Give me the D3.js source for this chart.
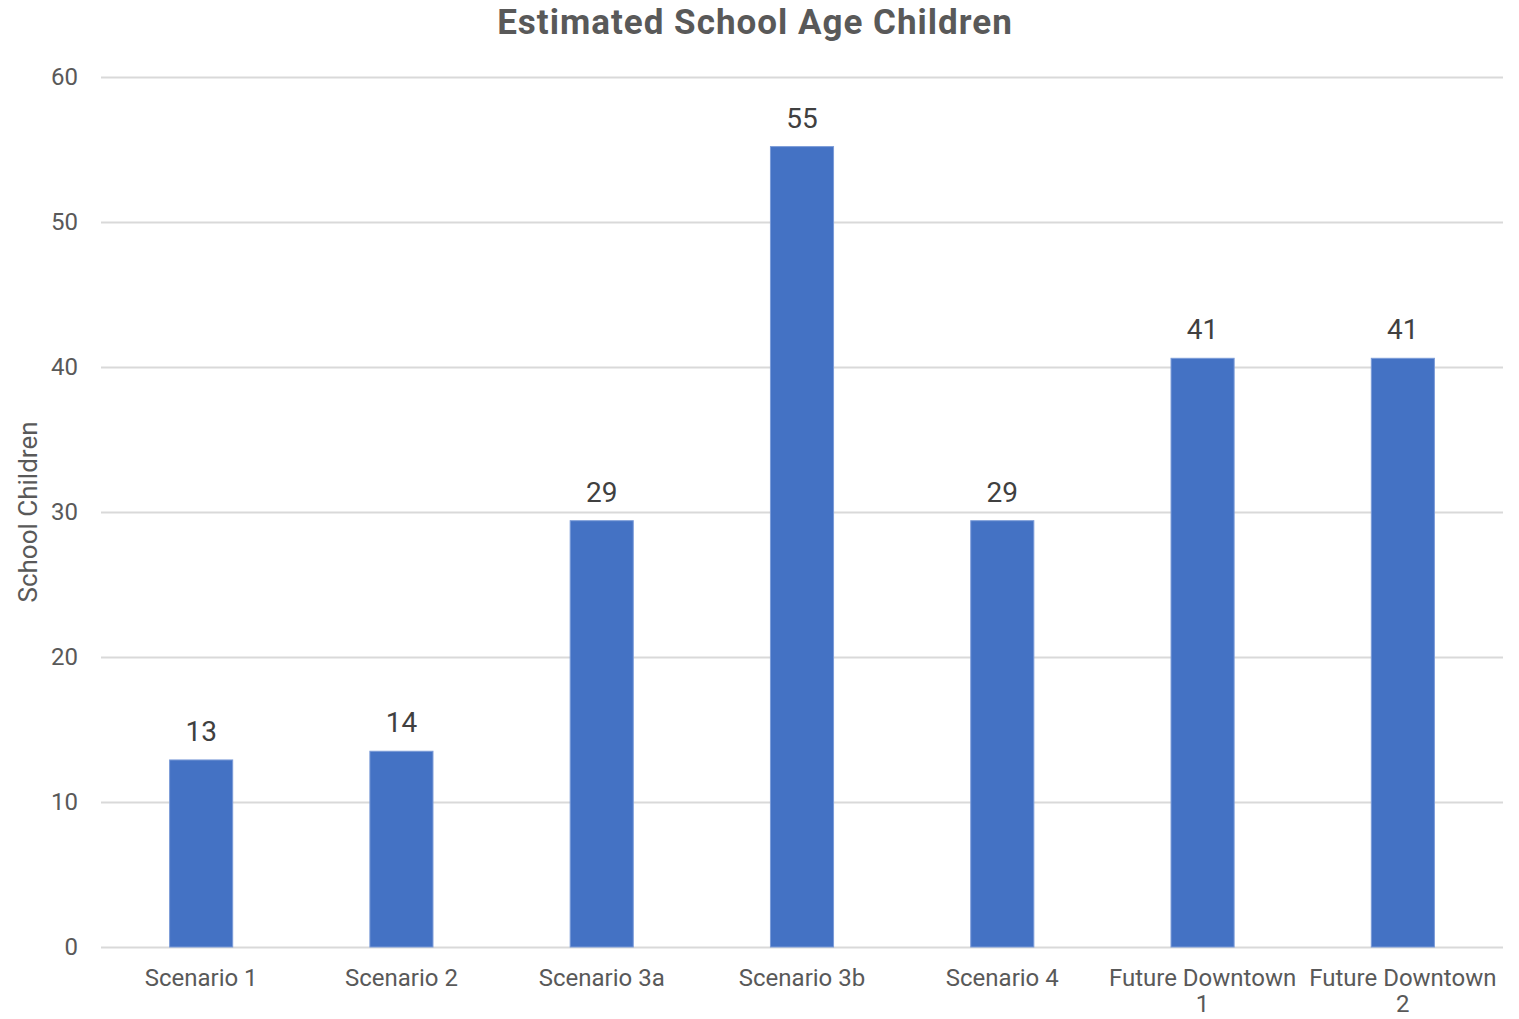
<!DOCTYPE html>
<html>
<head>
<meta charset="utf-8">
<script src="https://cdn.jsdelivr.net/npm/d3@7"></script>
<style>
  body { margin: 0; background: #fff; }
  svg { font-family: Roboto, sans-serif; }
  .grid line { stroke: #d9d9d9; stroke-width: 2; }
  .grid .domain { display: none; }
</style>
</head>
<body>
<svg width="1519" height="1019"></svg>
<script>
// **** data ****
var categories = ['Scenario 1', 'Scenario 2', 'Scenario 3a', 'Scenario 3b', 'Scenario 4', 'Future Downtown 1', 'Future Downtown 2'];
var children = [12.9, 13.5, 29.4, 55.2, 29.4, 40.6, 40.6];
var yTicks = [0, 10, 20, 30, 40, 50, 60];

var svg = d3.select('svg');
var plotLeft = 101, plotRight = 1503, plotTop = 77, plotBottom = 947;

var xScale = d3.scaleBand()
    .domain(categories)
    .range([plotLeft, plotRight])
    .paddingInner(0.685)
    .paddingOuter(0.3425);
var yScale = d3.scaleLinear()
    .domain([0, 60])
    .range([plotBottom, plotTop]);

// gridlines
svg.append('g').attr('class', 'grid')
    .attr('transform', 'translate(' + plotLeft + ',0)')
    .call(d3.axisLeft(yScale).tickValues(yTicks).tickSize(-(plotRight - plotLeft)).tickFormat(''));

// y tick labels
svg.append('g')
    .selectAll('text')
    .data(yTicks)
    .enter()
    .append('text')
        .attr('x', 78)
        .attr('y', function(d) { return yScale(d); })
        .attr('dy', '0.35em')
        .attr('text-anchor', 'end')
        .attr('fill', '#595959')
        .attr('font-size', 24)
        .text(function(d) { return d; });

// bars
svg.append('g')
    .selectAll('rect')
    .data(children)
    .enter()
    .append('rect')
        .attr('x', function(d, i) { return xScale(categories[i]); })
        .attr('y', function(d) { return yScale(d); })
        .attr('width', xScale.bandwidth())
        .attr('height', function(d) { return plotBottom - yScale(d); })
        .attr('fill', '#4472c4')
        .attr('stroke', '#7b9bd8')
        .attr('stroke-width', 1);

// data labels
svg.append('g')
    .selectAll('text')
    .data(children)
    .enter()
    .append('text')
        .attr('x', function(d, i) { return xScale(categories[i]) + xScale.bandwidth() / 2; })
        .attr('y', function(d) { return yScale(d) - 19; })
        .attr('text-anchor', 'middle')
        .attr('fill', '#404040')
        .attr('font-size', 28)
        .text(function(d) { return Math.round(d); });

// category labels, wrapped to the band step
var step = xScale.step();
var catLabels = svg.append('g')
    .selectAll('text')
    .data(categories)
    .enter()
    .append('text')
        .attr('x', function(d) { return xScale(d) + xScale.bandwidth() / 2; })
        .attr('y', 986)
        .attr('text-anchor', 'middle')
        .attr('fill', '#595959')
        .attr('font-size', 24);

catLabels.each(function(d) {
    var text = d3.select(this);
    var words = d.split(' ');
    var line = [];
    var x = text.attr('x');
    var tspan = text.append('tspan').attr('x', x).attr('dy', 0);
    words.forEach(function(w) {
        line.push(w);
        tspan.text(line.join(' '));
        if (tspan.node().getComputedTextLength() > step - 6 && line.length > 1) {
            line.pop();
            tspan.text(line.join(' '));
            line = [w];
            tspan = text.append('tspan').attr('x', x).attr('dy', '1.1em').text(w);
        }
    });
});

// y axis title
svg.append('text')
    .attr('transform', 'translate(37,512) rotate(-90)')
    .attr('text-anchor', 'middle')
    .attr('fill', '#595959')
    .attr('font-size', 26)
    .text('School Children');

// chart title
svg.append('text')
    .attr('x', 755)
    .attr('y', 34)
    .attr('text-anchor', 'middle')
    .attr('fill', '#595959')
    .attr('font-size', 35)
    .attr('font-weight', 'bold')
    .attr('letter-spacing', 1)
    .text('Estimated School Age Children');
</script>
</body>
</html>
